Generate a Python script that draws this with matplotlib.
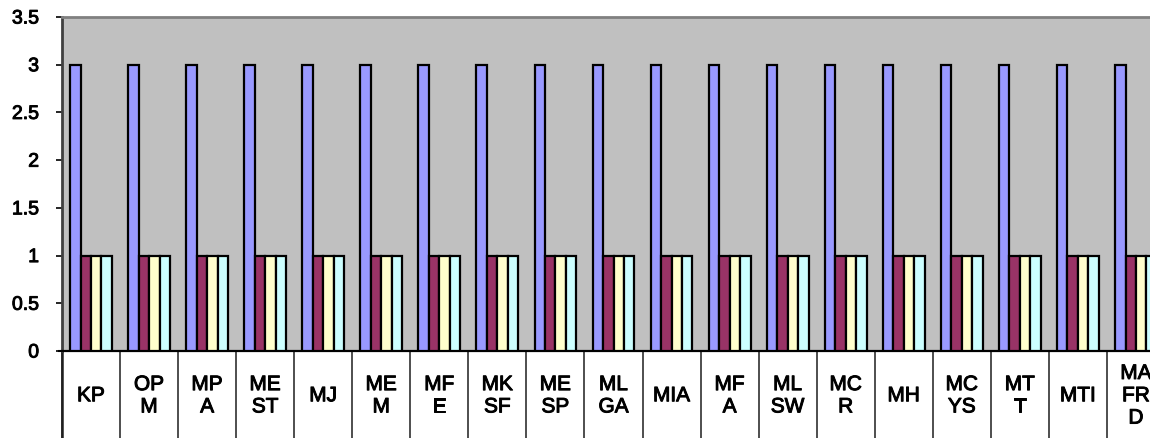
import numpy as np
import matplotlib.pyplot as plt
import matplotlib.patheffects as pe
from matplotlib.ticker import FixedLocator

plt.rcParams['font.family'] = ['Liberation Sans', 'DejaVu Sans']

# Category labels, already wrapped the way they show in the table cells
categories = ['KP', 'OP\nM', 'MP\nA', 'ME\nST', 'MJ', 'ME\nM', 'MF\nE', 'MK\nSF',
              'ME\nSP', 'ML\nGA', 'MIA', 'MF\nA', 'ML\nSW', 'MC\nR', 'MH',
              'MC\nYS', 'MT\nT', 'MTI', 'MA\nFR\nD']

series1 = [3, 3, 3, 3, 3, 3, 3, 3, 3, 3, 3, 3, 3, 3, 3, 3, 3, 3, 3]
series2 = [1, 1, 1, 1, 1, 1, 1, 1, 1, 1, 1, 1, 1, 1, 1, 1, 1, 1, 1]
series3 = [1, 1, 1, 1, 1, 1, 1, 1, 1, 1, 1, 1, 1, 1, 1, 1, 1, 1, 1]
series4 = [1, 1, 1, 1, 1, 1, 1, 1, 1, 1, 1, 1, 1, 1, 1, 1, 1, 1, 1]

yticks = [0, 0.5, 1, 1.5, 2, 2.5, 3, 3.5]
ytick_labels = ['0', '0.5', '1', '1.5', '2', '2.5', '3', '3.5']

colors = ['#9999FF', '#993366', '#FFFFCC', '#CCFFFF']

# slightly heavier text strokes
heavy = [pe.withStroke(linewidth=0.7, foreground='black')]

fig = plt.figure(figsize=(11.5, 4.38), dpi=100)
# plot area runs past the right edge of the figure
ax = fig.add_axes([62 / 1150, 87 / 438, 1103 / 1150, 334 / 438])
ax.set_facecolor('#C0C0C0')

x = np.arange(len(categories))
width = 0.18
for k, vals in enumerate([series1, series2, series3, series4]):
    ax.bar(x + (k - 1.5) * width, vals, width, color=colors[k],
           edgecolor='black', linewidth=1.6, zorder=3)

ax.set_xlim(-0.5, len(categories) - 0.5)
ax.set_ylim(0, 3.5)
ax.yaxis.set_major_locator(FixedLocator(yticks))
ax.set_yticklabels(ytick_labels, fontsize=14)
for t in ax.get_yticklabels():
    t.set_path_effects(heavy)
ax.tick_params(axis='y', direction='out', length=4.5, width=1.2, pad=12)
ax.set_xticks([])

ax.spines['top'].set_color('#808080')
ax.spines['top'].set_linewidth(2)
ax.spines['right'].set_visible(False)
ax.spines['left'].set_color('#404040')
ax.spines['left'].set_linewidth(2)
ax.spines['bottom'].set_linewidth(1.6)

# category table below the axis
trans = ax.get_xaxis_transform()
for i in range(len(categories) + 1):
    ax.plot([i - 0.5, i - 0.5], [0, -0.3], transform=trans, color='#404040',
            linewidth=1.3, clip_on=False)
ax.plot([-0.5, -0.5], [0, -0.3], transform=trans, color='#202020',
        linewidth=1.8, clip_on=False)
ax.plot([-0.56, -0.5], [0, 0], transform=trans, color='black',
        linewidth=1.5, clip_on=False)

for i, lab in enumerate(categories):
    ax.text(i, -0.134, lab, transform=trans, ha='center', va='center',
            multialignment='center', fontsize=15, linespacing=1.22,
            path_effects=heavy)

fig.savefig('out.png', dpi=100)
